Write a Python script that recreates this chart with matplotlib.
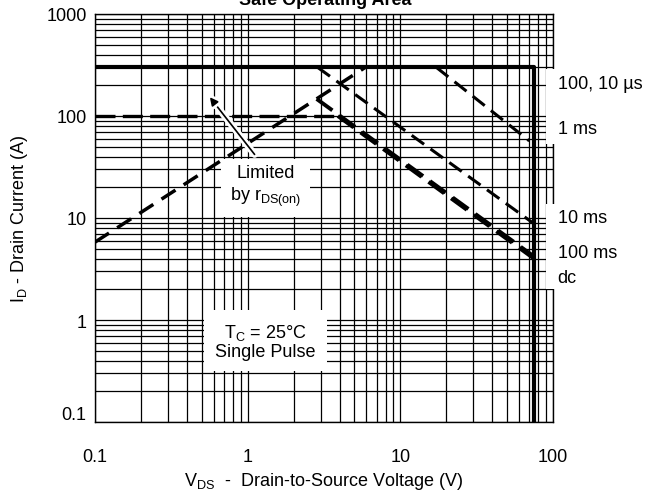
import matplotlib.pyplot as plt
import matplotlib.patheffects as pe
from matplotlib.patches import Rectangle
from matplotlib.transforms import ScaledTranslation, blended_transform_factory

plt.rcParams['font.family'] = ['Liberation Sans', 'DejaVu Sans']
plt.rcParams['mathtext.fontset'] = 'custom'
plt.rcParams['mathtext.rm'] = 'Liberation Sans'
plt.rcParams['mathtext.it'] = 'Liberation Sans:italic'

# ---- SOA boundaries (V, A) ----
limit_v = [0.1, 75, 75]          # 300 A pulse limit + BVDSS wall
limit_i = [300, 300, 0.1]

rds_v = [0.1, 5.9]               # limited by rDS(on)
rds_i = [5.8, 300]

dc_flat_v = [0.1, 3.9]           # continuous 100 A
dc_flat_i = [100, 100]

ms1_v = [17.2, 70]
ms1_i = [300, 57]

ms10_v = [2.87, 75]
ms10_i = [300, 8.8]

ms100_v = [2.83, 75]
ms100_i = [147, 4.2]

dc_v = [3.9, 75]
dc_i = [100, 4.0]

x_ticks = [0.1, 1, 10, 100]
x_labels = ['0.1', '1', '10', '100']
y_ticks = [0.1, 1, 10, 100, 1000]
y_labels = ['0.1', '1', '10', '100', '1000']

curve_labels = ['100, 10 \u00b5s', '1 ms', '10 ms', '100 ms', 'dc']
curve_label_y = [206, 75, 10.2, 4.6, 2.63]

FS = 13

fig = plt.figure(figsize=(6.53, 5.02), dpi=100)
ax = fig.add_axes([95/653, 1 - 423/502, 458/653, 408/502])

ax.set_xscale('log')
ax.set_yscale('log')
ax.set_xlim(0.1, 100)
ax.set_ylim(0.1, 1000)

ax.set_axisbelow(True)
ax.grid(which='both', color='black', lw=0.9)

ax.set_xticks(x_ticks)
ax.set_xticklabels(x_labels)
ax.set_yticks(y_ticks)
ax.set_yticklabels(y_labels)
ax.tick_params(which='both', length=0, labelsize=FS)
ax.tick_params(axis='x', pad=19)
ax.tick_params(axis='y', pad=6)
for s in ax.spines.values():
    s.set_linewidth(1.0)

# 0.1 label sits a bit higher in the original
lbl = ax.get_yticklabels()[0]
lbl.set_transform(lbl.get_transform() + ScaledTranslation(0, 9/100, fig.dpi_scale_trans))

# curves
ax.plot(limit_v, limit_i, color='black', lw=3.0, solid_capstyle='butt', zorder=7, clip_on=False)
ax.plot(rds_v, rds_i, color='black', lw=2.5, dashes=(4.8, 2.8), zorder=3)
ax.plot(dc_flat_v, dc_flat_i, color='black', lw=2.4, dashes=(6, 2.2), zorder=3)
ax.plot(ms1_v, ms1_i, color='black', lw=2.2, dashes=(5, 2.6), zorder=3)
ax.plot(ms10_v, ms10_i, color='black', lw=2.2, dashes=(5, 2.6), zorder=3)
ax.plot(ms100_v, ms100_i, color='black', lw=2.8, dashes=(5, 2.2), zorder=3)
ax.plot(dc_v, dc_i, color='black', lw=2.8, dashes=(5, 2.2), zorder=3)

ax.text(1.31, 20.6, 'Limited\nby r$_{\\mathrm{DS(on)}}$', ha='center', va='center',
        fontsize=FS, linespacing=1.25, bbox=dict(boxstyle='square,pad=0.5', fc='white', ec='none'),
        zorder=2)
ax.annotate('', xy=(0.565, 153), xytext=(1.11, 42),
            arrowprops=dict(arrowstyle='-|>', color='black', lw=1.2, mutation_scale=12,
                            shrinkA=0, shrinkB=0,
                            path_effects=[pe.withStroke(linewidth=5, foreground='white')]),
            zorder=5)

ax.text(1.31, 0.62, 'T$_\\mathrm{C}$ = 25\u00b0C\nSingle Pulse', ha='center', va='center',
        fontsize=FS, linespacing=1.1, bbox=dict(boxstyle='square,pad=0.6', fc='white', ec='none'),
        zorder=2)

# white strips behind the curve labels on the right edge
trans = blended_transform_factory(ax.transAxes, ax.transData)
for y0, y1 in [(53, 290), (2.0, 13.7)]:
    ax.add_patch(Rectangle((0.985, y0), 0.2, y1 - y0, transform=trans, fc='white', ec='none',
                           clip_on=False, zorder=5))

for txt, yv in zip(curve_labels, curve_label_y):
    ax.text(1.01, yv, txt, transform=trans, ha='left', va='center', fontsize=FS,
            bbox=dict(boxstyle='square,pad=0.2', fc='white', ec='none'), zorder=6)

ax.set_xlabel('V$_\\mathrm{DS}$  -  Drain-to-Source Voltage (V)', fontsize=FS, labelpad=3)
ax.set_ylabel('I$_\\mathrm{D}$ - Drain Current (A)', fontsize=FS, labelpad=12)

fig.text(0.498, 1 - 5/502, 'Safe Operating Area', ha='center', va='baseline',
         fontsize=FS, fontweight='bold')

plt.savefig('out.png', dpi=100)
